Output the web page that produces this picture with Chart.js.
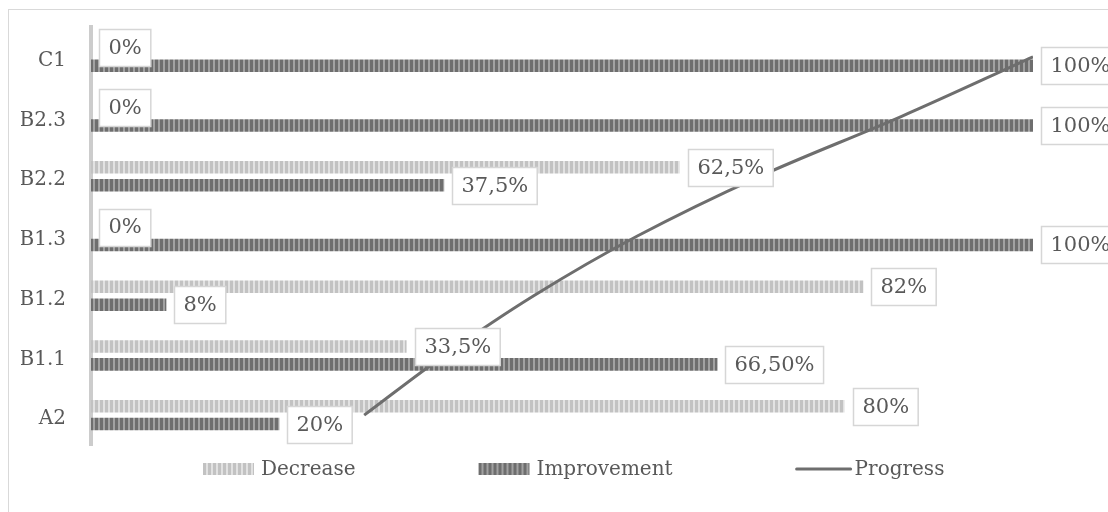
<!DOCTYPE html>
<html>
<head>
<meta charset="utf-8">
<script src="https://cdn.jsdelivr.net/npm/chart.js@4.4.1/dist/chart.umd.min.js"></script>
<style>
  html, body { margin: 0; padding: 0; background: #ffffff; }
  canvas { display: block; }
</style>
</head>
<body>
<canvas id="chart" width="1108" height="512"></canvas>
<script>
// Categories run bottom (A2) to top (C1)
const categories = ['A2', 'B1.1', 'B1.2', 'B1.3', 'B2.2', 'B2.3', 'C1'];
const decrease = [80, 33.5, 82, 0, 62.5, 0, 0];
const improvement = [20, 66.5, 8, 100, 37.5, 100, 100];
const progress = [29, 37.5, 47, 58, 71, 86, 100];
const decreaseLabels = ['80%', '33,5%', '82%', '0%', '62,5%', '0%', '0%'];
const improvementLabels = ['20%', '66,50%', '8%', '100%', '37,5%', '100%', '100%'];
const seriesNames = ['Decrease', 'Improvement', 'Progress'];

const FONT = '"DejaVu Serif", serif';
const TEXT = '#595959';

// Vertical stripe fills for the bars
function stripeTile(dark, light) {
  const c = document.createElement('canvas');
  c.width = 5; c.height = 4;
  const g = c.getContext('2d');
  g.fillStyle = light; g.fillRect(0, 0, 5, 4);
  g.fillStyle = dark; g.fillRect(0, 0, 3, 4);
  return c;
}
const canvas = document.getElementById('chart');
const ctx = canvas.getContext('2d');
const decTile = stripeTile('#c2c2c2', '#e2e2e2');
const impTile = stripeTile('#6e6e6e', '#a2a2a2');
const decPattern = ctx.createPattern(decTile, 'repeat');
const impPattern = ctx.createPattern(impTile, 'repeat');

// Light frame around the whole figure
const frame = {
  id: 'frame',
  beforeDraw(chart) {
    const g = chart.ctx;
    g.save();
    g.strokeStyle = '#d9d9d9';
    g.lineWidth = 1;
    g.strokeRect(8.5, 9.5, 1300, 700);
    g.restore();
  }
};

// Boxed value labels at the end of each bar
const barLabels = {
  id: 'barLabels',
  afterDatasetsDraw(chart) {
    const g = chart.ctx;
    g.save();
    g.font = '21px ' + FONT;
    g.textBaseline = 'middle';
    g.textAlign = 'left';
    [decreaseLabels, improvementLabels].forEach((texts, di) => {
      const meta = chart.getDatasetMeta(di);
      meta.data.forEach((bar, i) => {
        const t = texts[i];
        const w = g.measureText(t).width + 18;
        const h = 37;
        const x = Math.round(bar.x + 8) + 0.5;
        const y = Math.round(bar.y - h / 2) + 0.5;
        g.fillStyle = '#ffffff';
        g.fillRect(x, y, w, h);
        g.strokeStyle = '#d6d6d6';
        g.lineWidth = 1.5;
        g.strokeRect(x, y, w, h);
        g.fillStyle = TEXT;
        g.fillText(t, x + 9, bar.y + 1);
      });
    });
    g.restore();
  }
};

// Legend row below the plot
const legendRow = {
  id: 'legendRow',
  afterDraw(chart) {
    const g = chart.ctx;
    g.save();
    g.font = '20px ' + FONT;
    g.textBaseline = 'middle';
    g.textAlign = 'left';
    const cy = 469;
    const items = [
      { kind: 'bar', tile: decTile, w: 51, gap: 7, text: seriesNames[0] },
      { kind: 'bar', tile: impTile, w: 51, gap: 7, text: seriesNames[1] },
      { kind: 'line', w: 56, gap: 3, text: seriesNames[2] }
    ];
    const itemGap = 123;
    let x = 203;
    items.forEach(it => {
      const tw = g.measureText(it.text).width;
      if (it.kind === 'bar') {
        g.fillStyle = g.createPattern(it.tile, 'repeat');
        g.save();
        g.translate(x, cy - 6);
        g.fillRect(0, 0, it.w, 12);
        g.restore();
      } else {
        g.strokeStyle = '#6e6e6e';
        g.lineWidth = 3;
        g.lineCap = 'round';
        g.beginPath();
        g.moveTo(x + 1, cy);
        g.lineTo(x + it.w - 1, cy);
        g.stroke();
      }
      x += it.w + it.gap;
      g.fillStyle = TEXT;
      g.fillText(it.text, x, cy + 1);
      x += tw + itemGap;
    });
    g.restore();
  }
};

Chart.defaults.font.family = FONT;
Chart.defaults.color = TEXT;

new Chart(ctx, {
  type: 'bar',
  data: {
    labels: categories,
    datasets: [
      {
        label: seriesNames[0],
        data: decrease,
        backgroundColor: decPattern,
        borderWidth: 0,
        categoryPercentage: 0.6,
        barPercentage: 0.7,
        order: 1
      },
      {
        label: seriesNames[1],
        data: improvement,
        backgroundColor: impPattern,
        borderWidth: 0,
        categoryPercentage: 0.6,
        barPercentage: 0.7,
        order: 1
      },
      {
        type: 'line',
        label: seriesNames[2],
        data: progress,
        indexAxis: 'y',
        borderColor: '#6e6e6e',
        borderWidth: 3,
        backgroundColor: '#6e6e6e',
        pointRadius: 0,
        tension: 0.35,
        fill: false,
        order: 0
      }
    ]
  },
  options: {
    responsive: false,
    animation: false,
    devicePixelRatio: 1,
    indexAxis: 'y',
    layout: { padding: { left: 21, right: 75, top: 27, bottom: 67 } },
    plugins: {
      legend: { display: false },
      tooltip: { enabled: false }
    },
    scales: {
      x: {
        display: false,
        min: 0,
        max: 100
      },
      y: {
        reverse: true,
        grid: { display: false, drawTicks: false },
        border: { display: true, color: '#cccccc', width: 4 },
        ticks: { padding: 25, labelOffset: 4, color: TEXT, font: { size: 20, family: FONT } },
        afterFit(scale) {
          scale.width = 70;
          scale.paddingTop = 0;
          scale.paddingBottom = 0;
        }
      }
    }
  },
  plugins: [frame, barLabels, legendRow]
});
</script>
</body>
</html>
